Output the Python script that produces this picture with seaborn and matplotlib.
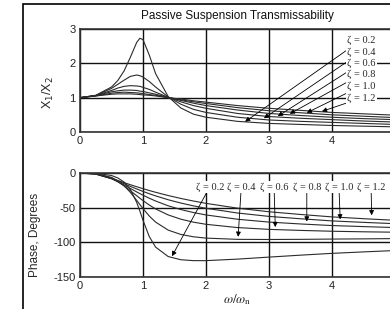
import numpy as np
import pandas as pd
import matplotlib
matplotlib.use("Agg")
import matplotlib.pyplot as plt
from matplotlib.patches import Rectangle
import seaborn as sns

# frecuencia normalizada w/wn
r = [0, 0.25, 0.5, 0.6, 0.7, 0.8, 0.9, 0.95, 1.0, 1.1, 1.2, 1.4, 1.6, 1.8,
     2.0, 2.5, 3.0, 3.5, 4.0, 4.5, 5.0]
zetas = [0.2, 0.4, 0.6, 0.8, 1.0, 1.2]

# X1/X2, una lista por zeta
mag_02 = [1, 1.07, 1.31, 1.50, 1.78, 2.18, 2.61, 2.73, 2.69, 2.24, 1.70, 1.03, 0.70, 0.52,
          0.43, 0.31, 0.25, 0.22, 0.19, 0.17, 0.15]
mag_04 = [1, 1.06, 1.27, 1.39, 1.51, 1.62, 1.66, 1.64, 1.60, 1.47, 1.31, 1.02, 0.81, 0.66,
          0.57, 0.43, 0.35, 0.31, 0.28, 0.25, 0.22]
mag_06 = [1, 1.06, 1.21, 1.28, 1.33, 1.35, 1.34, 1.33, 1.30, 1.24, 1.16, 1.01, 0.88, 0.77,
          0.69, 0.54, 0.45, 0.40, 0.36, 0.32, 0.29]
mag_08 = [1, 1.06, 1.17, 1.20, 1.22, 1.22, 1.21, 1.19, 1.18, 1.14, 1.10, 1.01, 0.92, 0.84,
          0.77, 0.64, 0.54, 0.48, 0.43, 0.39, 0.36]
mag_10 = [1, 1.05, 1.13, 1.15, 1.16, 1.15, 1.14, 1.13, 1.12, 1.09, 1.07, 1.00, 0.94, 0.88,
          0.83, 0.71, 0.62, 0.56, 0.50, 0.46, 0.42]
mag_12 = [1, 1.05, 1.10, 1.11, 1.11, 1.11, 1.10, 1.09, 1.08, 1.07, 1.05, 1.00, 0.96, 0.91,
          0.87, 0.77, 0.69, 0.63, 0.57, 0.53, 0.49]

# fase en grados
ph_02 = [0, -0.4, -3.6, -7.1, -13.1, -23.9, -42.4, -54.8, -68.2, -91.8, -106.9, -120.5,
         -125.1, -126.4, -126.4, -124.2, -121.3, -118.5, -115.9, -113.8, -111.8]
ph_04 = [0, -0.7, -6.3, -11.2, -18.4, -28.0, -39.5, -45.5, -51.3, -62.1, -70.8, -82.4,
         -88.6, -92.0, -93.9, -95.7, -95.9, -95.7, -95.3, -95.0, -94.6]
ph_06 = [0, -1.0, -7.7, -12.6, -18.7, -25.6, -32.8, -36.4, -39.8, -46.2, -51.8, -60.5,
         -66.6, -70.9, -74.0, -78.7, -81.3, -82.8, -84.0, -84.8, -85.4]
ph_08 = [0, -1.3, -8.2, -12.5, -17.3, -22.3, -27.3, -29.7, -32.0, -36.4, -40.4, -47.3,
         -52.7, -57.0, -60.5, -66.7, -70.8, -73.5, -75.8, -77.3, -78.7]
ph_10 = [0, -1.5, -8.1, -11.7, -15.5, -19.3, -23.0, -24.8, -26.6, -29.9, -33.0, -38.6,
         -43.3, -47.4, -50.9, -57.7, -62.6, -66.0, -69.1, -71.2, -73.1]
ph_12 = [0, -1.7, -7.8, -10.8, -13.9, -16.9, -19.8, -21.2, -22.6, -25.3, -27.8, -32.5,
         -36.7, -40.4, -43.8, -50.7, -55.9, -59.8, -63.3, -65.9, -68.2]

mags = [mag_02, mag_04, mag_06, mag_08, mag_10, mag_12]
phases = [ph_02, ph_04, ph_06, ph_08, ph_10, ph_12]

# flechas: punto de la curva y posicion del texto
top_tips = [(2.62, 0.30), (2.92, 0.40), (3.14, 0.46), (3.33, 0.53), (3.60, 0.56), (3.84, 0.60)]
top_text = [(4.24, 2.68), (4.24, 2.33), (4.24, 2.01), (4.24, 1.68), (4.24, 1.34), (4.24, 0.99)]
bot_tips = [(1.46, -120), (2.51, -92), (3.10, -78), (3.60, -70), (4.13, -67), (4.63, -61)]
bot_text = [(2.06, -20), (2.56, -20), (3.08, -20), (3.60, -20), (4.11, -20), (4.62, -20)]

rows = []
for z, m, p in zip(zetas, mags, phases):
    for x, a, b in zip(r, m, p):
        rows.append({"r": x, "zeta": z, "mag": a, "phase": b})
df = pd.DataFrame(rows)

sns.set_style("white")
plt.rcParams["font.family"] = ["Liberation Sans", "DejaVu Sans"]
plt.rcParams["axes.unicode_minus"] = False

W, H = 390, 309
fig = plt.figure(figsize=(W / 100, H / 100), dpi=100)
ax1 = fig.add_axes([80 / W, 1 - 132 / H, 315 / W, 103 / H])
ax2 = fig.add_axes([80 / W, 1 - 277 / H, 315 / W, 104 / H])

serif = ["Liberation Serif", "DejaVu Serif"]
curve = "#2b2b2b"

sns.lineplot(data=df, x="r", y="mag", units="zeta", estimator=None, color=curve,
             lw=0.8, ax=ax1, legend=False)
sns.lineplot(data=df, x="r", y="phase", units="zeta", estimator=None, color=curve,
             lw=0.8, ax=ax2, legend=False)

ax1.set_xlim(0, 5)
ax1.set_ylim(0, 3)
ax1.set_yticks([0, 1, 2, 3])
ax2.set_xlim(0, 5)
ax2.set_ylim(-150, 0)
ax2.set_yticks([0, -50, -100, -150])

for ax in (ax1, ax2):
    ax.set_xticks([0, 1, 2, 3, 4])
    ax.set_xticklabels(["0", "1", "2", "3", "4"])
    ax.grid(True, color="#111111", lw=1.0)
    ax.tick_params(length=0, labelsize=8, pad=3, colors="#222222")
    for s in ax.spines.values():
        s.set_color("#333333")
        s.set_linewidth(1.2)
    ax.set_xlabel("")
    ax.set_ylabel("")

ax1.set_ylabel("X$_1$/X$_2$", fontsize=9, math_fontfamily="dejavusans")
ax1.yaxis.set_label_coords(-0.076, 0.38)
ax2.set_ylabel("Phase, Degrees", fontsize=8.5)
ax2.yaxis.set_label_coords(-0.125, 0.40)
ax2.set_xlabel(r"$\omega/\omega_{\rm n}$", fontsize=9.5, math_fontfamily="stix")
ax2.xaxis.set_label_coords(0.5, -0.15)

arrow = dict(arrowstyle="-|>", lw=0.6, color="black", mutation_scale=7,
             shrinkA=0, shrinkB=0)
box = dict(boxstyle="square,pad=0.1", fc="white", ec="none")
for z, tip, pos in zip(zetas, top_tips, top_text):
    ax1.annotate(f"ζ = {z:.1f}", xy=tip, xytext=pos, ha="left", va="center",
                 fontsize=7.5, family=serif, bbox=box, arrowprops=arrow)
for z, tip, pos in zip(zetas, bot_tips, bot_text):
    ax2.annotate(f"ζ = {z:.1f}", xy=tip, xytext=pos, ha="center", va="center",
                 fontsize=7.5, family=serif, bbox=box, arrowprops=arrow)

fig.text(237 / W, 1 - 16 / H, "Passive Suspension Transmissability", ha="center",
         va="center", fontsize=8.5, color="#111111")
fig.patches.append(Rectangle((23 / W, -0.1), 1.2, 1.1 - 4 / H, transform=fig.transFigure,
                             fill=False, ec="black", lw=1.2))

fig.savefig("out.png", dpi=100)
